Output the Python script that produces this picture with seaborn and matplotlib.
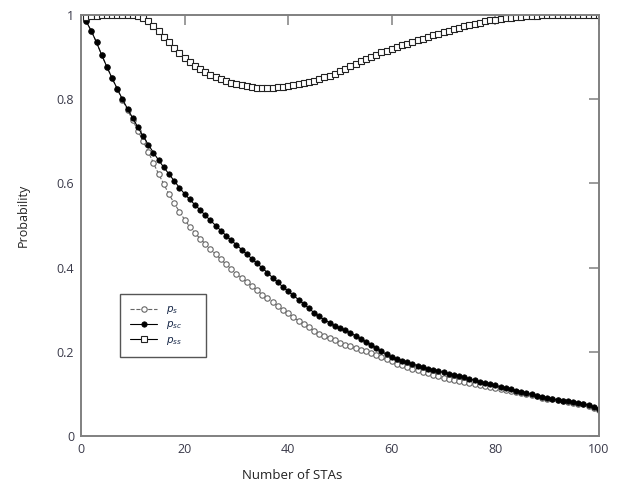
import matplotlib
matplotlib.use("Agg")
import matplotlib.pyplot as plt
import seaborn as sns
import pandas as pd

n_stas = list(range(1, 101))

p_s = [0.985, 0.962, 0.935, 0.905, 0.877, 0.85, 0.824, 0.798, 0.774, 0.75,
       0.725, 0.70, 0.675, 0.648, 0.622, 0.598, 0.574, 0.553, 0.533, 0.514,
       0.497, 0.482, 0.469, 0.456, 0.444, 0.432, 0.42, 0.408, 0.397, 0.386,
       0.376, 0.366, 0.356, 0.346, 0.336, 0.327, 0.318, 0.309, 0.30, 0.291,
       0.282, 0.274, 0.266, 0.258, 0.25, 0.243, 0.237, 0.232, 0.227, 0.222,
       0.217, 0.213, 0.209, 0.205, 0.201, 0.197, 0.192, 0.187, 0.182, 0.177,
       0.172, 0.168, 0.164, 0.16, 0.156, 0.152, 0.149, 0.146, 0.142, 0.138,
       0.135, 0.132, 0.13, 0.128, 0.126, 0.124, 0.121, 0.119, 0.117, 0.115,
       0.112, 0.109, 0.106, 0.104, 0.102, 0.10, 0.097, 0.094, 0.091, 0.089,
       0.087, 0.085, 0.083, 0.081, 0.079, 0.077, 0.075, 0.071, 0.066, 0.062]

p_sc = [0.985, 0.962, 0.935, 0.905, 0.877, 0.85, 0.825, 0.80, 0.777, 0.755,
        0.733, 0.712, 0.692, 0.673, 0.655, 0.638, 0.622, 0.606, 0.59, 0.575,
        0.562, 0.549, 0.537, 0.524, 0.512, 0.50, 0.488, 0.476, 0.465, 0.454,
        0.443, 0.432, 0.421, 0.41, 0.399, 0.388, 0.376, 0.365, 0.354, 0.344,
        0.334, 0.324, 0.314, 0.303, 0.293, 0.284, 0.276, 0.269, 0.262, 0.256,
        0.251, 0.245, 0.238, 0.231, 0.224, 0.217, 0.209, 0.201, 0.194, 0.188,
        0.183, 0.179, 0.175, 0.171, 0.167, 0.163, 0.16, 0.157, 0.154, 0.151,
        0.148, 0.145, 0.142, 0.139, 0.136, 0.132, 0.129, 0.126, 0.123, 0.12,
        0.117, 0.114, 0.111, 0.108, 0.105, 0.102, 0.099, 0.096, 0.093, 0.09,
        0.088, 0.086, 0.084, 0.082, 0.08, 0.079, 0.077, 0.073, 0.068, 0.064]

p_ss = [0.995, 0.997, 0.998, 0.999, 1.0, 1.0, 1.0, 1.0, 1.0, 0.999,
        0.997, 0.994, 0.986, 0.975, 0.962, 0.948, 0.935, 0.922, 0.91, 0.899,
        0.889, 0.88, 0.871, 0.864, 0.858, 0.852, 0.847, 0.843, 0.839, 0.836,
        0.833, 0.831, 0.829, 0.827, 0.826, 0.826, 0.827, 0.828, 0.829, 0.831,
        0.833, 0.836, 0.838, 0.841, 0.844, 0.848, 0.852, 0.856, 0.861, 0.866,
        0.872, 0.878, 0.884, 0.89, 0.896, 0.901, 0.906, 0.911, 0.915, 0.92,
        0.924, 0.928, 0.932, 0.936, 0.94, 0.944, 0.948, 0.952, 0.956, 0.96,
        0.963, 0.967, 0.97, 0.973, 0.976, 0.979, 0.982, 0.985, 0.987, 0.989,
        0.991, 0.993, 0.994, 0.995, 0.996, 0.997, 0.998, 0.998, 0.999, 0.999,
        0.999, 0.999, 1.0, 1.0, 1.0, 1.0, 1.0, 1.0, 1.0, 1.0]

x_ticks = [0, 20, 40, 60, 80, 100]
y_ticks = [0, 0.2, 0.4, 0.6, 0.8, 1]
y_tick_labels = ["0", "0.2", "0.4", "0.6", "0.8", "1"]
series_labels = [r"$p_s$", r"$p_{sc}$", r"$p_{ss}$"]

sns.set_style("white")
plt.rcParams["font.family"] = ["Open Sans", "DejaVu Sans"]

fig = plt.figure(figsize=(6.2, 4.87), dpi=100)
ax = fig.add_axes([0.1306, 0.1047, 0.8355, 0.8645])

df = pd.DataFrame({"n": n_stas, "p_s": p_s, "p_sc": p_sc, "p_ss": p_ss})

sns.lineplot(data=df, x="n", y="p_s", ax=ax, color="#666666", linestyle="--",
             linewidth=0.8, marker="o", markersize=3.9, markerfacecolor="white",
             markeredgecolor="#666666", markeredgewidth=0.8,
             label=series_labels[0] + "      ")
sns.lineplot(data=df, x="n", y="p_sc", ax=ax, color="black", linestyle="-",
             linewidth=0.8, marker="o", markersize=3.9, markerfacecolor="black",
             markeredgecolor="black", markeredgewidth=0.5,
             label=series_labels[1] + "      ")
sns.lineplot(data=df, x="n", y="p_ss", ax=ax, color="black", linestyle="-",
             linewidth=0.8, marker="s", markersize=4.3, markerfacecolor="white",
             markeredgecolor="#222222", markeredgewidth=0.8,
             label=series_labels[2] + "      ")

ax.set_xlim(0, 100)
ax.set_ylim(0, 1)
ax.set_xticks(x_ticks)
ax.set_xticklabels([str(v) for v in x_ticks])
ax.set_yticks(y_ticks)
ax.set_yticklabels(y_tick_labels)

for s in ax.spines.values():
    s.set_color("#808080")
    s.set_linewidth(1.4)
    s.set_visible(True)

ax.tick_params(axis="both", which="major", direction="in", length=7.5, width=1.1,
               color="#808080", top=True, right=True, labelsize=9,
               labelcolor="#3a3a4a", pad=5)

ax.set_xlabel("Number of STAs", fontsize=9.5, color="#222222")
ax.set_ylabel("Probability", fontsize=9, color="#222222")
ax.xaxis.set_label_coords(0.407, -0.079)
ax.yaxis.set_label_coords(-0.0985, 0.523)

leg = ax.legend(loc="lower left", bbox_to_anchor=(0.0753, 0.1876),
                borderaxespad=0, frameon=True, fancybox=False, fontsize=7.5,
                handlelength=2.6, handletextpad=0.8, labelcolor="#1a2a4a",
                borderpad=1.0, labelspacing=0.3)
leg.get_frame().set_edgecolor("#555555")
leg.get_frame().set_linewidth(1.0)
leg.get_frame().set_alpha(1)

fig.savefig("out.png", dpi=100)
